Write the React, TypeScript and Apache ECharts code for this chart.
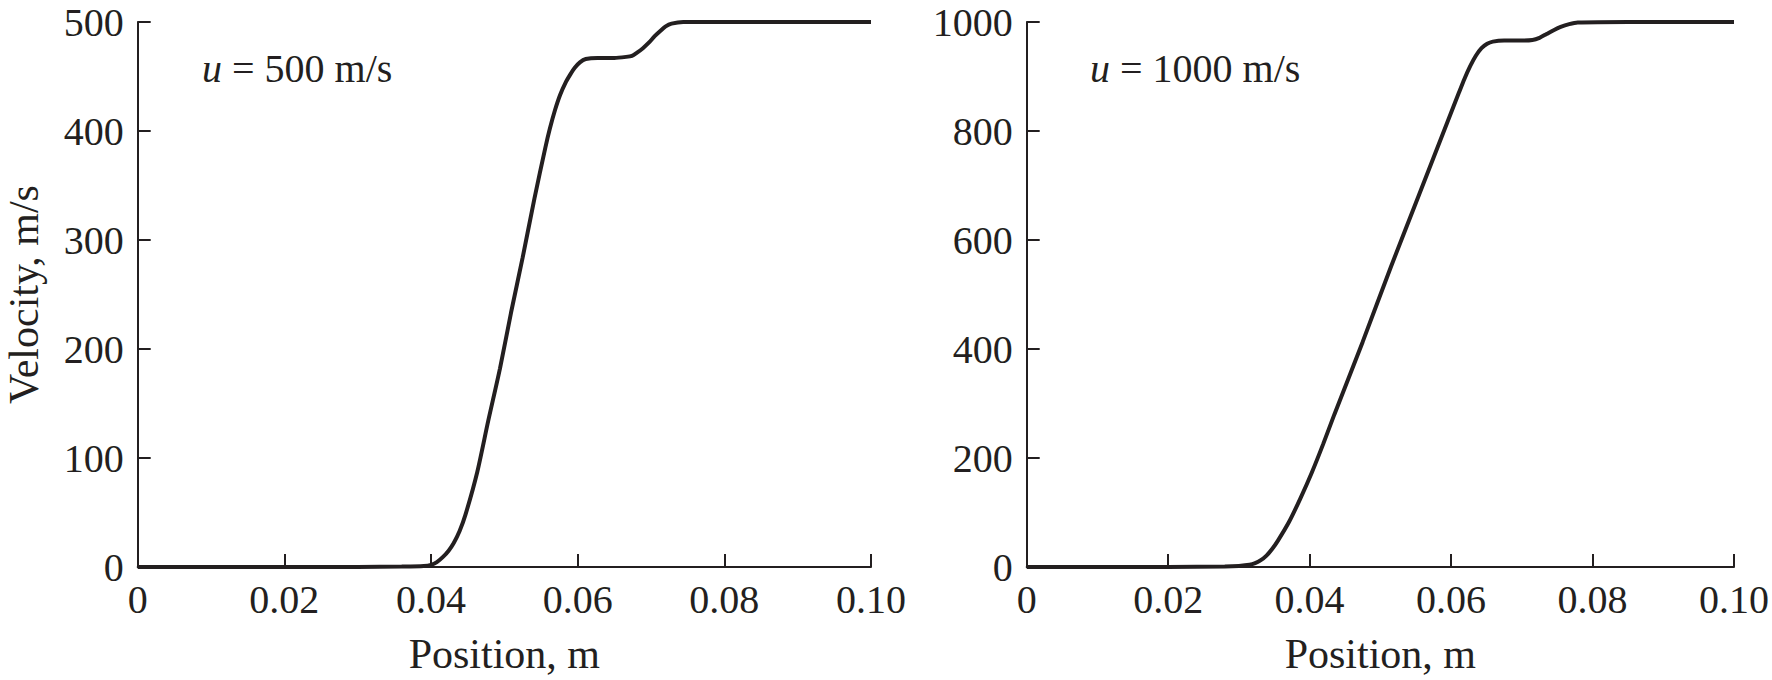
import React, { useEffect, useRef } from "react";
import * as echarts from "echarts";

// Left panel: u = 500 m/s
const posLeft = [0, 0.01, 0.02, 0.03, 0.036, 0.039, 0.0400, 0.0408, 0.0416, 0.0424, 0.0431, 0.0439, 0.0447, 0.0463, 0.0478, 0.0494, 0.0509, 0.0525, 0.0541, 0.0556, 0.0562, 0.0569, 0.0576, 0.0584, 0.0590, 0.0596, 0.0603, 0.0611, 0.0627, 0.0650, 0.0666, 0.0674, 0.0681, 0.0689, 0.0697, 0.0705, 0.0713, 0.0720, 0.0728, 0.0744, 0.08, 0.09, 0.1];
const velLeft = [0, 0, 0, 0, 0.5, 1, 2, 4.5, 9, 15, 22, 33, 48, 87, 134, 182, 233, 284, 338, 385, 402, 419, 433, 445, 452, 458, 463, 466, 467, 467, 468, 469, 472, 476, 481, 487, 492, 496, 498.5, 500, 500, 500, 500];

// Right panel: u = 1000 m/s
const posRight = [0, 0.01, 0.02, 0.028, 0.030, 0.0315, 0.0323, 0.0331, 0.0339, 0.0347, 0.0355, 0.0371, 0.0387, 0.0403, 0.0419, 0.0435, 0.0475, 0.0515, 0.0555, 0.0595, 0.0611, 0.0619, 0.0627, 0.0635, 0.0643, 0.0651, 0.0659, 0.0675, 0.0700, 0.0715, 0.0725, 0.0735, 0.0745, 0.0755, 0.0767, 0.0779, 0.085, 0.1];
const velRight = [0, 0, 0, 1, 2, 4, 7, 12.5, 21, 33, 48, 83, 126, 173, 225, 280, 413, 551, 684, 817, 870, 896, 919, 938, 952, 960, 964, 966, 966, 967, 971, 978, 985, 991, 996, 999, 1000, 1000];

const xTicks = [0, 0.02, 0.04, 0.06, 0.08, 0.1];
const leftYMax = 500;
const rightYMax = 1000;
const annotations = ["500", "1000"];

const INK = "#231f20";
const FONT = "'Liberation Serif', 'Times New Roman', serif";

export default function App() {
  const ref = useRef<HTMLDivElement>(null);
  useEffect(() => {
    if (!ref.current) return;
    const chart = echarts.init(ref.current, null, { renderer: "svg" });
    const xAxisBase = (gridIndex: number) => ({
      type: "value",
      gridIndex,
      min: xTicks[0],
      max: xTicks[xTicks.length - 1],
      interval: 0.02,
      name: "Position, m",
      nameLocation: "middle",
      nameGap: 66,
      nameTextStyle: { fontFamily: FONT, fontSize: 42, color: INK },
      axisLine: { show: true, onZero: false, lineStyle: { color: INK, width: 2 } },
      axisTick: { show: true, inside: true, length: 13, lineStyle: { color: INK, width: 2 } },
      axisLabel: {
        fontFamily: FONT,
        fontSize: 40,
        color: INK,
        margin: 12,
        formatter: (v: number) => (v === 0 ? "0" : v.toFixed(2)),
      },
      splitLine: { show: false },
    });
    const yAxisBase = (gridIndex: number, max: number, interval: number, name: string) => ({
      type: "value",
      gridIndex,
      min: 0,
      max,
      interval,
      name,
      nameLocation: "middle",
      nameGap: 93,
      nameTextStyle: { fontFamily: FONT, fontSize: 42, color: INK },
      axisLine: { show: true, onZero: false, lineStyle: { color: INK, width: 2 } },
      axisTick: { show: true, inside: true, length: 13, lineStyle: { color: INK, width: 2 } },
      axisLabel: {
        fontFamily: FONT,
        fontSize: 40,
        color: INK,
        margin: 14,
        formatter: (v: number) => String(v),
      },
      splitLine: { show: false },
    });
    const lineSeries = (idx: number, xs: number[], ys: number[]) => ({
      type: "line",
      xAxisIndex: idx,
      yAxisIndex: idx,
      data: xs.map((x, i) => [x, ys[i]]),
      showSymbol: false,
      smooth: 0.25,
      lineStyle: { color: INK, width: 4 },
      clip: false,
    });
    chart.setOption({
      animation: false,
      backgroundColor: "#ffffff",
      grid: [
        { left: 137.7, top: 22, width: 733.3, height: 552 },
        { left: 1026.7, top: 22, width: 711, height: 552 },
      ],
      xAxis: [xAxisBase(0), xAxisBase(1)],
      yAxis: [
        yAxisBase(0, leftYMax, 100, "Velocity, m/s"),
        yAxisBase(1, rightYMax, 200, ""),
      ],
      series: [lineSeries(0, posLeft, velLeft), lineSeries(1, posRight, velRight)],
      graphic: [
        {
          type: "text",
          x: 202,
          y: 68,
          style: {
            text: "{i|u} = " + annotations[0] + " m/s",
            font: `40px ${FONT}`,
            fill: INK,
            verticalAlign: "middle",
            rich: { i: { fontStyle: "italic", fontFamily: FONT, fontSize: 40, fill: INK } },
          },
        },
        {
          type: "text",
          x: 1090,
          y: 68,
          style: {
            text: "{i|u} = " + annotations[1] + " m/s",
            font: `40px ${FONT}`,
            fill: INK,
            verticalAlign: "middle",
            rich: { i: { fontStyle: "italic", fontFamily: FONT, fontSize: 40, fill: INK } },
          },
        },
      ],
    });
    return () => chart.dispose();
  }, []);
  return (
    <div
      ref={ref}
      style={{ position: "fixed", left: 0, top: 0, width: 1772, height: 680, background: "#fff" }}
    />
  );
}
